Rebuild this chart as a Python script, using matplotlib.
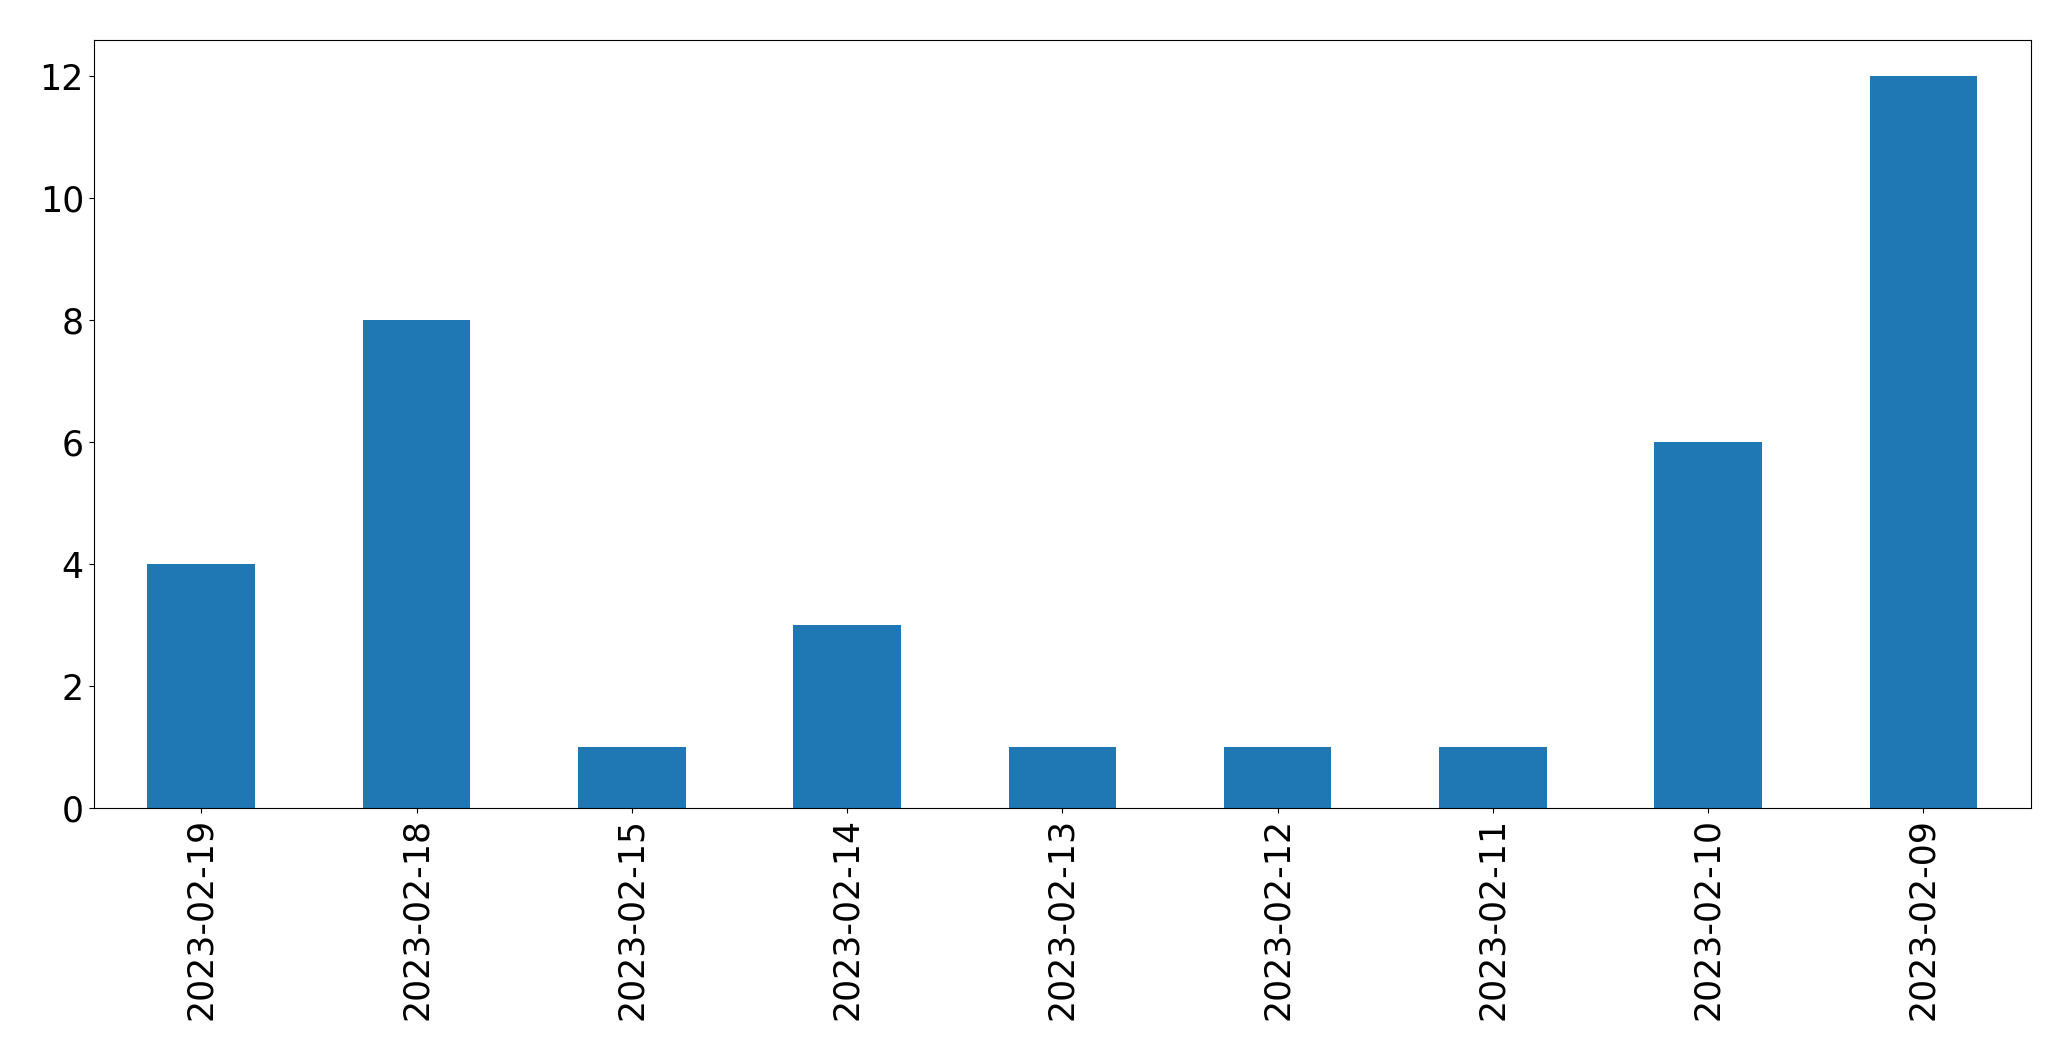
import matplotlib
matplotlib.use("Agg")
import matplotlib.pyplot as plt
import numpy as np

# counts per day, in the order shown
dates = ["2023-02-19", "2023-02-18", "2023-02-15", "2023-02-14", "2023-02-13",
         "2023-02-12", "2023-02-11", "2023-02-10", "2023-02-09"]
counts = [4, 8, 1, 3, 1, 1, 1, 6, 12]

fig = plt.figure(figsize=(20.71, 10.61), dpi=100)
ax = fig.add_axes([0.0452, 0.2385, 0.9355, 0.724])

x = np.arange(len(dates))
ax.bar(x, counts, width=0.5, color="#1f77b4")
ax.set_xlim(-0.5, len(dates) - 0.5)
ax.set_ylim(0, 12.6)
ax.set_xticks(x)
ax.set_xticklabels(dates, rotation=90)
ax.set_yticks([0, 2, 4, 6, 8, 10, 12])
ax.tick_params(labelsize=25)

fig.savefig("out.png", dpi=100)
